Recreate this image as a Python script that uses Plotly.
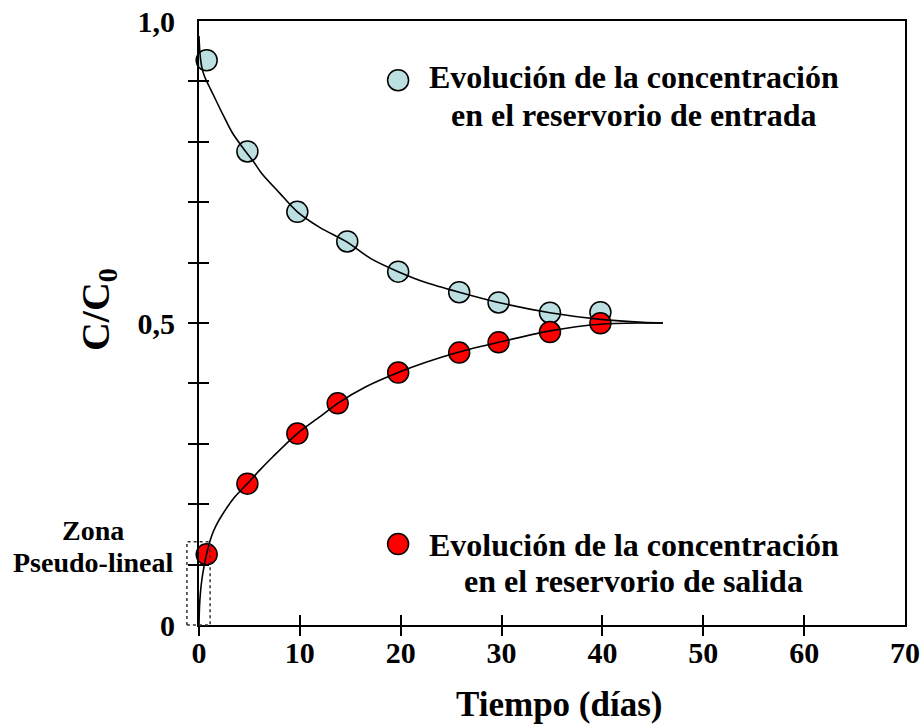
import plotly.graph_objects as go

# Measured concentrations (C/C0) versus time in days
t_entrada = [0.76, 4.8, 9.75, 14.7, 19.75, 25.8, 29.7, 34.8, 39.8]
c_entrada = [0.935, 0.784, 0.684, 0.635, 0.585, 0.551, 0.534, 0.517, 0.518]

t_salida = [0.76, 4.8, 9.75, 13.75, 19.75, 25.8, 29.7, 34.8, 39.8]
c_salida = [0.117, 0.234, 0.317, 0.367, 0.418, 0.451, 0.468, 0.485, 0.4995]

# Fitted curves
t_fit_entrada = [0, 0.1, 0.3, 0.6, 1.0, 1.5, 2.4, 3.3, 4.4, 5.5, 6.2, 8, 9.75, 12, 14.7,
                 17, 19.75, 22.5, 25.8, 29.7, 34.8, 39.8, 44, 46]
c_fit_entrada = [0.975, 0.945, 0.922, 0.906, 0.892, 0.875, 0.844, 0.815, 0.789, 0.765,
                 0.748, 0.715, 0.684, 0.658, 0.634, 0.607, 0.585, 0.567, 0.551, 0.534,
                 0.517, 0.506, 0.501, 0.500]

t_fit_salida = [0, 0.05, 0.15, 0.3, 0.5, 0.76, 1.2, 1.7, 2.4, 3.5, 4.8, 6, 7.35, 9.74,
                12, 13.75, 16.5, 19.75, 22.5, 25.8, 29.7, 34.8, 39.8, 44, 46]
c_fit_salida = [0.0, 0.03, 0.055, 0.077, 0.097, 0.118, 0.145, 0.165, 0.185, 0.211, 0.234,
                0.256, 0.279, 0.317, 0.345, 0.367, 0.394, 0.418, 0.435, 0.452, 0.468,
                0.487, 0.498, 0.500, 0.500]

x_ticks = [0, 10, 20, 30, 40, 50, 60, 70]
x_minor_ticks = [0, 10, 20, 30, 40, 50, 60]
y_labels = [0, 0.5, 1.0]
y_label_text = ["0", "0,5", "1,0"]
y_minor_ticks = [0.1, 0.2, 0.3, 0.4, 0.5, 0.6, 0.7, 0.8, 0.9]

# Pseudo-linear zone box (data units)
zona_x = [-1.2, 1.1]
zona_y = [0.0, 0.138]

X_RANGE = [0, 70]
Y_RANGE = [0, 1.0]

FONT = "Liberation Serif"
BLUE = "#bce0e2"
RED = "#ff0000"

fig = go.Figure()

fig.add_trace(go.Scatter(
    x=t_entrada, y=c_entrada, mode="markers",
    marker=dict(size=21, color=BLUE, line=dict(color="black", width=1.5)),
    showlegend=False, cliponaxis=False))
fig.add_trace(go.Scatter(
    x=t_salida, y=c_salida, mode="markers",
    marker=dict(size=21, color=RED, line=dict(color="black", width=1.5)),
    showlegend=False, cliponaxis=False))
fig.add_trace(go.Scatter(
    x=t_fit_entrada, y=c_fit_entrada, mode="lines",
    line=dict(color="black", width=1.6, shape="spline", smoothing=0.8),
    showlegend=False))
fig.add_trace(go.Scatter(
    x=t_fit_salida, y=c_fit_salida, mode="lines",
    line=dict(color="black", width=1.6, shape="spline", smoothing=0.8),
    showlegend=False))

# Overlay subplots only used to draw ticks crossing the axis lines
fig.add_trace(go.Scatter(x=[None], y=[None], xaxis="x2", yaxis="y2", showlegend=False))
fig.add_trace(go.Scatter(x=[None], y=[None], xaxis="x3", yaxis="y3", showlegend=False))

tick_font = dict(family=FONT, size=30, color="black", weight="bold")

fig.update_layout(
    width=921, height=724,
    margin=dict(l=199, r=16, t=21, b=99),
    paper_bgcolor="white", plot_bgcolor="white",
    xaxis=dict(range=X_RANGE, tickvals=x_ticks, ticktext=[str(v) for v in x_ticks],
               ticks="", showline=True, linecolor="black", linewidth=2, mirror=True,
               showgrid=False, zeroline=False, tickfont=tick_font,
               ticklabelstandoff=0, automargin=False),
    yaxis=dict(range=Y_RANGE, tickvals=y_labels, ticktext=y_label_text,
               ticks="", showline=True, linecolor="black", linewidth=2, mirror=True,
               showgrid=False, zeroline=False, tickfont=tick_font,
               ticklabelstandoff=16, automargin=False),
    xaxis2=dict(overlaying="x", anchor="y2", range=X_RANGE, tickvals=x_minor_ticks,
                ticks="outside", ticklen=10, tickwidth=2, tickcolor="black",
                showticklabels=False, showline=False, showgrid=False, zeroline=False,
                automargin=False),
    yaxis2=dict(overlaying="y", anchor="x2", range=Y_RANGE, tickvals=y_minor_ticks,
                ticks="outside", ticklen=10, tickwidth=2, tickcolor="black",
                showticklabels=False, showline=False, showgrid=False, zeroline=False,
                automargin=False),
    xaxis3=dict(overlaying="x", anchor="y3", range=X_RANGE, tickvals=x_minor_ticks,
                ticks="inside", ticklen=10, tickwidth=2, tickcolor="black",
                showticklabels=False, showline=False, showgrid=False, zeroline=False,
                automargin=False),
    yaxis3=dict(overlaying="y", anchor="x3", range=Y_RANGE, tickvals=y_minor_ticks,
                ticks="inside", ticklen=10, tickwidth=2, tickcolor="black",
                showticklabels=False, showline=False, showgrid=False, zeroline=False,
                automargin=False),
)


def to_paper_x(v):
    return (v - X_RANGE[0]) / (X_RANGE[1] - X_RANGE[0])


def to_paper_y(v):
    return (v - Y_RANGE[0]) / (Y_RANGE[1] - Y_RANGE[0])


# Dotted box marking the pseudo-linear zone
fig.add_shape(type="rect", xref="paper", yref="paper",
              x0=to_paper_x(zona_x[0]), x1=to_paper_x(zona_x[1]),
              y0=to_paper_y(zona_y[0]), y1=to_paper_y(zona_y[1]),
              line=dict(color="#333333", width=1.5, dash="dot"), layer="above")

# Legend keys
for ypos, col in [(0.902, BLUE), (0.134, RED)]:
    fig.add_shape(type="circle", xref="paper", yref="paper",
                  xsizemode="pixel", ysizemode="pixel",
                  xanchor=0.282, yanchor=ypos,
                  x0=-10.5, x1=10.5, y0=-10.5, y1=10.5,
                  fillcolor=col, line=dict(color="black", width=1.5), layer="above")

text_font = dict(family=FONT, size=32, color="black", weight="bold")
label_font = dict(family=FONT, size=28, color="black", weight="bold")

notes = [
    ("Evolución de la concentración", 0.616, 0.9065, text_font),
    ("en el reservorio de entrada", 0.616, 0.844, text_font),
    ("Evolución de la concentración", 0.616, 0.132, text_font),
    ("en el reservorio de salida", 0.616, 0.073, text_font),
    ("Zona", -0.150, 0.157, label_font),
    ("Pseudo-lineal", -0.150, 0.103, label_font),
]
for txt, ax, ay, fnt in notes:
    fig.add_annotation(text=txt, xref="paper", yref="paper", x=ax, y=ay,
                       xanchor="center", yanchor="middle", showarrow=False, font=fnt)

# Axis titles
fig.add_annotation(text="Tiempo (días)", xref="paper", yref="paper", x=0.51, y=-0.1316,
                   xanchor="center", yanchor="middle", showarrow=False,
                   font=dict(family=FONT, size=35, color="black", weight="bold"))
fig.add_annotation(text="C/C<sub>0</sub>", xref="paper", yref="paper", x=-0.143, y=0.5215,
                   xanchor="center", yanchor="middle", showarrow=False, textangle=-90,
                   font=dict(family=FONT, size=40, color="black", weight="bold"))

fig.write_html("out.html")
